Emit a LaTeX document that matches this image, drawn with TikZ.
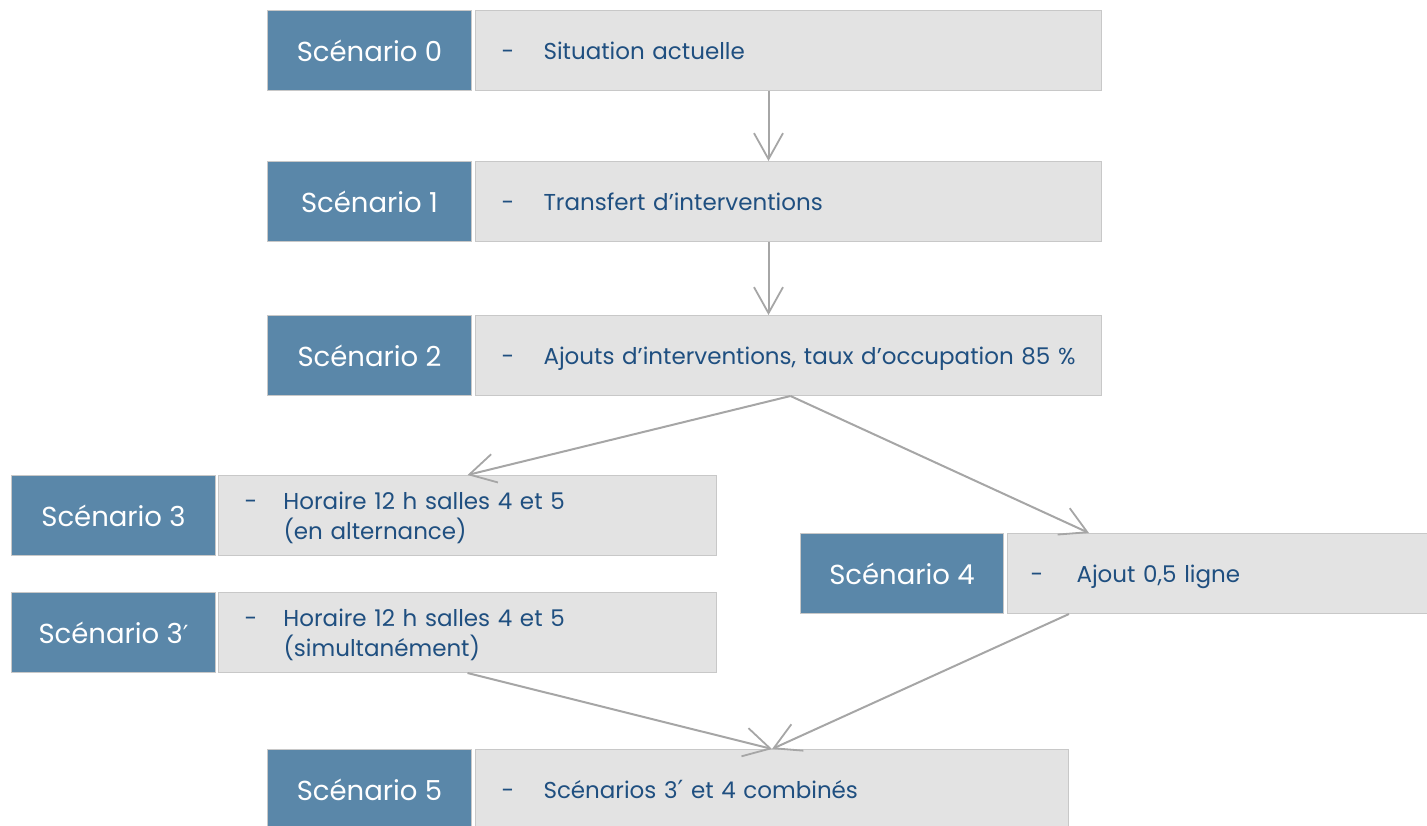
\documentclass[tikz,border=0pt]{standalone}
\usepackage{fontspec}
\setmainfont{Poppins}
\newfontfamily\primefont{DejaVu Sans}
\usetikzlibrary{arrows.meta,calc}
\definecolor{bluefill}{HTML}{5A87A9}
\definecolor{greyfill}{HTML}{E3E3E3}
\definecolor{greyedge}{HTML}{C8C8C8}
\definecolor{bluetext}{HTML}{1F4F80}
\definecolor{arrowgrey}{HTML}{A6A6A6}
\newcommand{\prm}{{\primefont\fontsize{25}{25}\selectfont ′}}
\newcommand{\lowered}[1]{\raisebox{-3.5pt}[\height][\depth]{#1}}
\tikzset{
  bluebox/.style={anchor=north west, fill=bluefill, draw=greyedge, line width=1pt,
    minimum width=204pt, minimum height=80pt, inner sep=0pt, text=white,
    font=\fontsize{27.5}{30}\selectfont},
  greybox/.style={anchor=north west, fill=greyfill, draw=greyedge, line width=1pt,
    minimum height=80pt, inner xsep=26pt, inner ysep=0pt, text=bluetext, align=left,
    font=\fontsize{23}{28}\selectfont},
  conn/.style={draw=arrowgrey, line width=2pt,
    -{Straight Barb[length=26pt,width=29pt,line width=1.8pt]}},
}
\newcommand{\dashtext}[1]{\lowered{\begin{tabular}{@{}p{42pt}@{}l@{}}-&#1\end{tabular}}}
\newcommand{\dashtwo}[2]{\lowered{\begin{tabular}{@{}p{39pt}@{}l@{}}-&#1\\&#2\end{tabular}}}
\begin{document}
\begin{tikzpicture}[x=1pt,y=-1pt]
\useasboundingbox (0,0) rectangle (1427,826);
% Scenario 0
\node[bluebox] (b0) at (267,10) {Scénario 0};
\node[greybox, text width=626pt-52pt, minimum width=626pt] (g0) at (475,10) {\dashtext{Situation actuelle}};
% Scenario 1
\node[bluebox] (b1) at (267,161) {Scénario 1};
\node[greybox, text width=626pt-52pt, minimum width=626pt] (g1) at (475,161) {\dashtext{Transfert d’interventions}};
% Scenario 2
\node[bluebox] (b2) at (267,315) {Scénario 2};
\node[greybox, text width=626pt-52pt, minimum width=626pt] (g2) at (475,315) {\dashtext{Ajouts d’interventions, taux d’occupation 85 \%}};
% Scenario 3
\node[bluebox] (b3) at (11,475) {Scénario 3};
\node[greybox, text width=498pt-52pt, minimum width=498pt] (g3) at (218,475) {\dashtwo{Horaire 12 h salles 4 et 5}{(en alternance)}};
% Scenario 3'
\node[bluebox] (b3p) at (11,592) {Scénario 3\prm};
\node[greybox, text width=498pt-52pt, minimum width=498pt] (g3p) at (218,592) {\dashtwo{Horaire 12 h salles 4 et 5}{(simultanément)}};
% Scenario 4
\node[bluebox, minimum width=203pt] (b4) at (800,533) {Scénario 4};
\node[greybox, text width=420pt-46pt, minimum width=420pt, inner xsep=23pt] (g4) at (1007,533) {\lowered{\begin{tabular}{@{}p{46pt}@{}l@{}}-&Ajout 0,5 ligne\end{tabular}}};
% Scenario 5
\node[bluebox] (b5) at (267,749) {Scénario 5};
\node[greybox, text width=593pt-52pt, minimum width=593pt] (g5) at (475,749) {\dashtext{Scénarios 3\prm{} et 4 combinés}};
% connectors
\coordinate (s0) at ($(g0.south)+(-20,0)$);
\coordinate (e1) at ($(g1.north)+(-20,0)$);
\coordinate (s1) at ($(g1.south)+(-20,0)$);
\coordinate (e2) at ($(g2.north)+(-20,0)$);
\coordinate (s2) at ($(g2.south)+(2,0)$);
\coordinate (e4) at ($(g4.north west)+(82,0)$);
\coordinate (s4) at ($(g4.south west)+(62,0)$);
\draw[conn] (s0) -- (e1);
\draw[conn] (s1) -- (e2);
\draw[conn] (s2) -- (g3.north);
\draw[conn] (s2) -- (e4);
\draw[conn] (g3p.south) -- (g5.north);
\draw[conn] (s4) -- (g5.north);
\end{tikzpicture}
\end{document}
